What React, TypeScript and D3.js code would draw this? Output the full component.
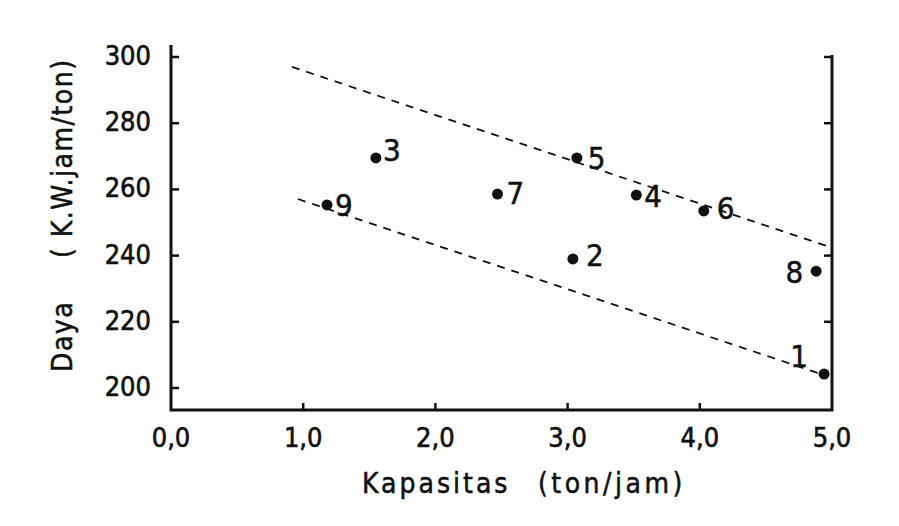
import React, { useEffect, useRef } from 'react';
import * as d3 from 'd3';

// point labels and values
const pointLabels = ['1', '2', '3', '4', '5', '6', '7', '8', '9'];
const kapasitas = [4.94, 3.04, 1.55, 3.52, 3.07, 4.03, 2.47, 4.88, 1.18];
const daya = [204.2, 239.0, 269.5, 258.3, 269.5, 253.5, 258.6, 235.3, 255.3];

// the two dashed envelope lines (start / end)
const upperLineX = [0.915, 4.96];
const upperLineY = [297.0, 242.9];
const lowerLineX = [0.96, 4.92];
const lowerLineY = [257.1, 204.2];

const xTickValues = [0, 1, 2, 3, 4, 5];
const xTickLabels = ['0,0', '1,0', '2,0', '3,0', '4,0', '5,0'];
const yTickValues = [200, 220, 240, 260, 280, 300];

// where each number sits relative to its dot
const LABEL_OFFSETS: Record<string, [number, number, string]> = {
  '1': [-16, -7, 'end'],
  '2': [13, 7, 'start'],
  '3': [7, 3, 'start'],
  '4': [8, 12, 'start'],
  '5': [11, 11, 'start'],
  '6': [13, 8, 'start'],
  '7': [9, 10, 'start'],
  '8': [-13, 12, 'end'],
  '9': [8, 11, 'start'],
};

const FONT = '"DejaVu Sans Condensed", "DejaVu Sans", sans-serif';
const INK = '#111';

const App = () => {
  const svgRef = useRef<SVGSVGElement>(null);

  useEffect(() => {
    const svg = d3.select(svgRef.current);
    svg.selectAll('*').remove();

    const left = 171;
    const right = 832;
    const bottom = 410;
    const top = 45;

    const x = d3.scaleLinear().domain([0, 5]).range([left, right]);
    const y = d3.scaleLinear().domain([200, 300]).range([388, 57]);

    svg.append('rect').attr('width', 899).attr('height', 526).attr('fill', '#fff');

    // frame: left, bottom, right
    svg.append('path')
      .attr('d', `M${left},${top} L${left},${bottom} L${right},${bottom} L${right},${top + 10}`)
      .attr('fill', 'none')
      .attr('stroke', INK)
      .attr('stroke-width', 3);

    // y ticks (left, inward)
    yTickValues.forEach(v => {
      svg.append('line')
        .attr('x1', left).attr('x2', left + 8)
        .attr('y1', y(v)).attr('y2', y(v))
        .attr('stroke', INK).attr('stroke-width', 2.5);
      svg.append('text')
        .attr('x', left - 20)
        .attr('y', y(v) + 8)
        .attr('text-anchor', 'end')
        .attr('font-family', FONT)
        .attr('font-size', 27)
        .attr('fill', INK)
        .attr('stroke', INK)
        .attr('stroke-width', 0.6)
        .text(v);
    });

    // right side ticks
    yTickValues.filter(v => v > 200).forEach(v => {
      svg.append('line')
        .attr('x1', right - 8).attr('x2', right)
        .attr('y1', y(v)).attr('y2', y(v))
        .attr('stroke', INK).attr('stroke-width', 2.5);
    });

    // x ticks
    xTickValues.forEach((v, i) => {
      if (v > 0 && v < 5) {
        svg.append('line')
          .attr('x1', x(v)).attr('x2', x(v))
          .attr('y1', bottom).attr('y2', bottom - 7)
          .attr('stroke', INK).attr('stroke-width', 2.5);
      }
      svg.append('text')
        .attr('x', x(v))
        .attr('y', bottom + 37)
        .attr('text-anchor', 'middle')
        .attr('font-family', FONT)
        .attr('font-size', 27)
        .attr('fill', INK)
        .attr('stroke', INK)
        .attr('stroke-width', 0.6)
        .text(xTickLabels[i]);
    });

    // axis titles
    const title = (sel: any) => sel
      .attr('font-family', FONT).attr('font-size', 28)
      .attr('fill', INK)
      .attr('stroke', INK)
      .attr('stroke-width', 0.5);

    svg.append('text')
      .attr('x', 362).attr('y', 493)
      .attr('letter-spacing', 3)
      .call(title)
      .text('Kapasitas');
    svg.append('text')
      .attr('x', 538).attr('y', 493)
      .attr('letter-spacing', 3.5)
      .call(title)
      .text('(ton/jam)');

    svg.append('text')
      .attr('transform', 'translate(72,372) rotate(-90)')
      .attr('letter-spacing', 1.5)
      .call(title)
      .text('Daya');
    svg.append('text')
      .attr('transform', 'translate(72,258) rotate(-90)')
      .attr('letter-spacing', 1.5)
      .call(title)
      .text('( K.W.jam/ton)');

    // dashed envelope lines
    const line = d3.line<[number, number]>().x(d => x(d[0])).y(d => y(d[1]));
    [[upperLineX, upperLineY], [lowerLineX, lowerLineY]].forEach(([lx, ly]) => {
      svg.append('path')
        .attr('d', line(lx.map((v, i) => [v, ly[i]] as [number, number])))
        .attr('fill', 'none')
        .attr('stroke', INK)
        .attr('stroke-width', 1.8)
        .attr('stroke-dasharray', '8,7');
    });

    // points
    pointLabels.forEach((lab, i) => {
      const cx = x(kapasitas[i]);
      const cy = y(daya[i]);
      svg.append('circle')
        .attr('cx', cx).attr('cy', cy).attr('r', 5.5)
        .attr('fill', INK);
      const [dx, dy, anchor] = LABEL_OFFSETS[lab];
      svg.append('text')
        .attr('x', cx + dx).attr('y', cy + dy)
        .attr('text-anchor', anchor)
        .attr('font-family', FONT)
        .attr('font-size', 31)
        .attr('fill', INK)
        .attr('stroke', INK)
        .attr('stroke-width', 0.5)
        .text(lab);
    });
  }, []);

  return (
    <svg
      ref={svgRef}
      width={899}
      height={526}
      style={{ position: 'absolute', left: 0, top: 0, display: 'block' }}
    />
  );
};

export default App;
